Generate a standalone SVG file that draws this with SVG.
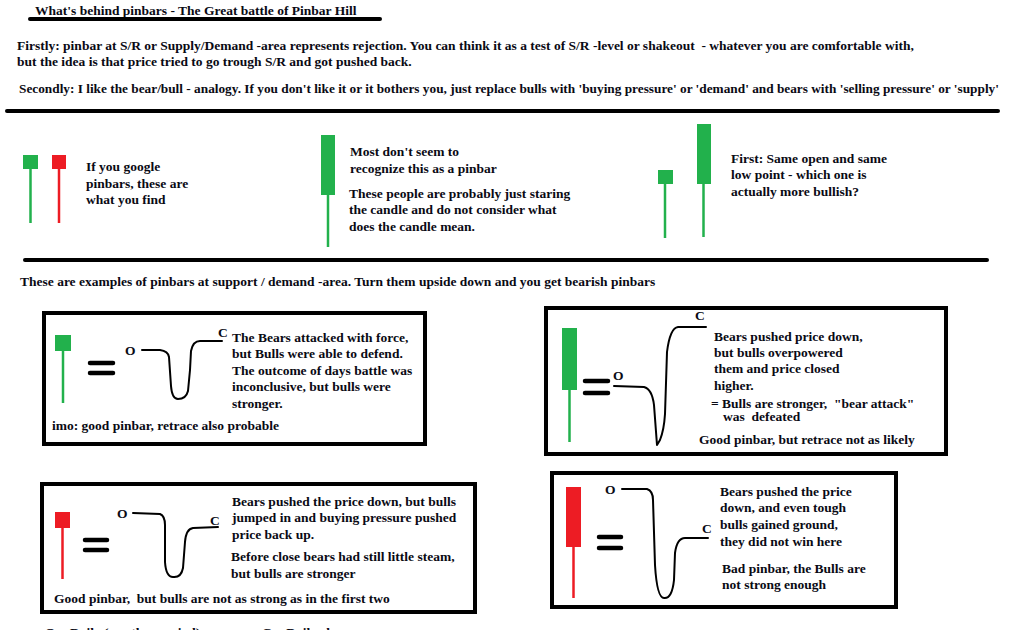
<svg xmlns="http://www.w3.org/2000/svg" width="1011" height="630" viewBox="0 0 1011 630">
<style>
text{font-family:"Liberation Serif","Times New Roman",serif;font-weight:bold;font-size:13.5px;fill:#0a0a14;white-space:pre}
.g{fill:#22b14c}.r{fill:#ed1c24}
.gw{stroke:#22b14c;stroke-width:2.5}.rw{stroke:#ed1c24;stroke-width:2.5}
.rule{stroke:#000;stroke-width:4;stroke-linecap:round}
.box{fill:none;stroke:#000;stroke-width:4}
.eq{stroke:#000;stroke-width:4.5;stroke-linecap:round}
.curve{fill:none;stroke:#000;stroke-width:2;stroke-linejoin:round;stroke-linecap:round}
</style>
<rect width="1011" height="630" fill="#fff"/>
<g id="header">
<text x="35" y="15">What's behind pinbars - The Great battle of Pinbar Hill</text>
<line class="rule" x1="30" y1="19" x2="380" y2="19" stroke-width="3"/>
<text x="17" y="50">Firstly: pinbar at S/R or Supply/Demand -area represents rejection. You can think it as a test of S/R -level or shakeout  - whatever you are comfortable with,</text>
<text x="17" y="66">but the idea is that price tried to go trough S/R and got pushed back.</text>
<text x="19" y="93" style="font-size:13.3px">Secondly: I like the bear/bull - analogy. If you don't like it or it bothers you, just replace bulls with 'buying pressure' or 'demand' and bears with 'selling pressure' or 'supply'</text>
<line class="rule" x1="7" y1="111" x2="998" y2="111"/>
</g>
<g id="google-pinbars">
<line class="gw" x1="30.5" y1="168" x2="30.5" y2="223"/>
<rect class="g" x="23" y="155" width="15" height="14"/>
<line class="rw" x1="59" y1="168" x2="59" y2="223"/>
<rect class="r" x="52" y="155" width="14" height="14"/>
<text x="86" y="171">If you google</text>
<text x="86" y="188">pinbars, these are</text>
<text x="86" y="204">what you find</text>
</g>
<g id="unrecognized-pinbar">
<line class="gw" x1="328" y1="194" x2="328" y2="247"/>
<rect class="g" x="321" y="135" width="14" height="60"/>
<text x="350" y="156">Most don't seem to</text>
<text x="350" y="173">recognize this as a pinbar</text>
<text x="349" y="198">These people are probably just staring</text>
<text x="349" y="214">the candle and do not consider what</text>
<text x="349" y="231">does the candle mean.</text>
</g>
<g id="compare-pinbars">
<line class="gw" x1="665" y1="183" x2="665" y2="238"/>
<rect class="g" x="658" y="170" width="15" height="14"/>
<line class="gw" x1="703.5" y1="183" x2="703.5" y2="237"/>
<rect class="g" x="697" y="124" width="14" height="60"/>
<text x="731" y="163">First: Same open and same</text>
<text x="731" y="179">low point - which one is</text>
<text x="731" y="196">actually more bullish?</text>
<line class="rule" x1="25" y1="260" x2="987" y2="260"/>
</g>
<g id="intro">
<text x="20" y="286">These are examples of pinbars at support / demand -area. Turn them upside down and you get bearish pinbars</text>
</g>
<g id="box1">
<rect class="box" x="44" y="313" width="381" height="131"/>
<line class="gw" x1="63" y1="350" x2="63" y2="403"/>
<rect class="g" x="55" y="335" width="16" height="16"/>
<line class="eq" x1="90" y1="363" x2="113" y2="363"/>
<line class="eq" x1="90" y1="373" x2="113" y2="373"/>
<text x="125" y="355">O</text>
<path class="curve" d="M142,350 L160,350 Q168,351 169,357 L171,386 Q172,399 178,399 Q186,399 188,391 L190,370 L191,351 Q193,341 200,341 L222,341"/>
<text x="218" y="337">C</text>
<text x="232" y="342">The Bears attacked with force,</text>
<text x="232" y="358">but Bulls were able to defend.</text>
<text x="232" y="375">The outcome of days battle was</text>
<text x="232" y="391">inconclusive, but bulls were</text>
<text x="232" y="408">stronger.</text>
<text x="52" y="430">imo: good pinbar, retrace also probable</text>
</g>
<g id="box2">
<rect class="box" x="546" y="308" width="400" height="146"/>
<line class="gw" x1="569.5" y1="389" x2="569.5" y2="442"/>
<rect class="g" x="562" y="328" width="15" height="62"/>
<line class="eq" x1="585" y1="381" x2="608" y2="381"/>
<line class="eq" x1="585" y1="393" x2="608" y2="393"/>
<text x="613" y="380">O</text>
<path class="curve" d="M614,386 L644,387 Q652,389 654,405 L657,445 L660,440 Q664,430 665,414 L667,352 Q670,328 678,327 L706,327"/>
<text x="695" y="320">C</text>
<text x="714" y="341">Bears pushed price down,</text>
<text x="714" y="357">but bulls overpowered</text>
<text x="714" y="373">them and price closed</text>
<text x="714" y="390">higher.</text>
<text x="711" y="408">= Bulls are stronger,  "bear attack"</text>
<text x="723" y="421">was  defeated</text>
<text x="699" y="444">Good pinbar, but retrace not as likely</text>
</g>
<g id="box3">
<rect class="box" x="42" y="484" width="433" height="128"/>
<line class="rw" x1="62.5" y1="527" x2="62.5" y2="579"/>
<rect class="r" x="55" y="512" width="15" height="16"/>
<line class="eq" x1="85" y1="540" x2="107" y2="540"/>
<line class="eq" x1="85" y1="550" x2="107" y2="550"/>
<text x="117" y="518">O</text>
<path class="curve" d="M133,513 L160,514 Q165,516 165,525 L165,562 Q166,577 173,577 Q181,578 183,568 L185,542 Q186,529 193,528 L218,527"/>
<text x="210" y="525">C</text>
<text x="232" y="506">Bears pushed the price down, but bulls</text>
<text x="232" y="522">jumped in and buying pressure pushed</text>
<text x="232" y="539">price back up.</text>
<text x="231" y="561">Before close bears had still little steam,</text>
<text x="231" y="578">but bulls are stronger</text>
<text x="54" y="603">Good pinbar,  but bulls are not as strong as in the first two</text>
</g>
<g id="box4">
<rect class="box" x="552" y="473" width="344" height="134"/>
<line class="rw" x1="573.5" y1="546" x2="573.5" y2="598"/>
<rect class="r" x="566" y="487" width="15" height="60"/>
<line class="eq" x1="599" y1="537" x2="621" y2="537"/>
<line class="eq" x1="599" y1="548" x2="621" y2="548"/>
<text x="605" y="494">O</text>
<path class="curve" d="M622,489 L647,489 Q653,491 653,500 L655,565 Q657,598 664,598 Q672,599 674,580 L675,553 Q677,538 685,538 L708,538"/>
<text x="702" y="533">C</text>
<text x="720" y="496">Bears pushed the price</text>
<text x="720" y="512">down, and even tough</text>
<text x="720" y="529">bulls gained ground,</text>
<text x="720" y="546">they did not win here</text>
<text x="722" y="573">Bad pinbar, the Bulls are</text>
<text x="722" y="589">not strong enough</text>
</g>
<g id="legend">
<text x="45" y="637">O = Daily (or other period) open</text>
<text x="262" y="637">C = Daily close</text>
</g>
</svg>
